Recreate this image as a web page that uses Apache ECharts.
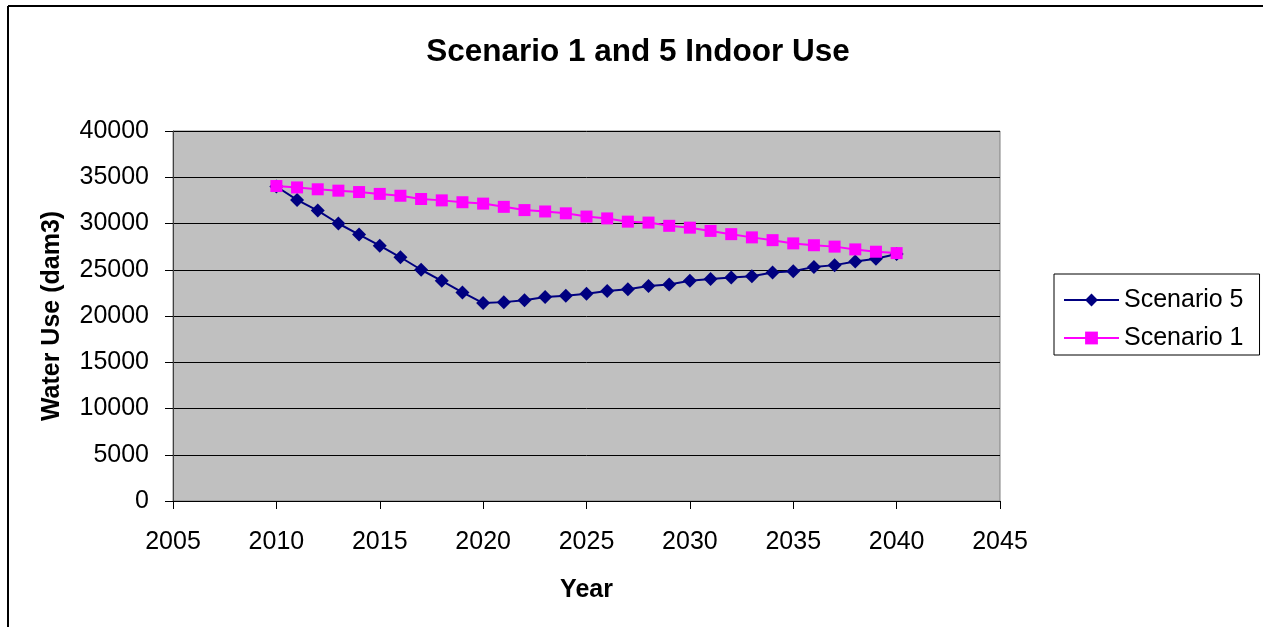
<!DOCTYPE html>
<html>
<head>
<meta charset="utf-8">
<title>Scenario 1 and 5 Indoor Use</title>
<script src="https://cdn.jsdelivr.net/npm/echarts@6/dist/echarts.min.js"></script>
<style>
  html, body { margin: 0; padding: 0; background: #ffffff; }
  #chart { width: 1263px; height: 627px; }
</style>
</head>
<body>
<div id="chart"></div>
<script>
// Years covered by both scenarios
const years = [2010, 2011, 2012, 2013, 2014, 2015, 2016, 2017, 2018, 2019, 2020,
               2021, 2022, 2023, 2024, 2025, 2026, 2027, 2028, 2029, 2030,
               2031, 2032, 2033, 2034, 2035, 2036, 2037, 2038, 2039, 2040];

// Indoor water use, dam3
const scenario5 = [34000, 32550, 31400, 30000, 28800, 27600, 26350, 25000, 23800, 22550, 21400,
                   21500, 21700, 22050, 22200, 22400, 22700, 22900, 23250, 23400, 23800,
                   24000, 24150, 24300, 24700, 24850, 25300, 25500, 25900, 26200, 26700];
const scenario1 = [34050, 33900, 33700, 33550, 33400, 33200, 33000, 32650, 32500, 32300, 32150,
                   31800, 31450, 31300, 31100, 30750, 30550, 30200, 30100, 29750, 29550,
                   29200, 28850, 28500, 28200, 27850, 27650, 27500, 27200, 26950, 26800];

const seriesNames = ['Scenario 5', 'Scenario 1'];

const pairs = vals => years.map((y, i) => [y, vals[i]]);
const plain = v => String(v);

const FONT = 'Liberation Sans, Arial, sans-serif';

const chart = echarts.init(document.getElementById('chart'), null, { renderer: 'canvas' });

chart.setOption({
  backgroundColor: '#ffffff',
  animation: false,
  textStyle: { fontFamily: FONT, color: '#000000' },
  title: {
    text: 'Scenario 1 and 5 Indoor Use',
    left: 633,
    textAlign: 'center',
    top: 31,
    textStyle: { fontFamily: FONT, fontSize: 31.5, fontWeight: 'bold', color: '#000000' }
  },
  grid: {
    left: 173, right: 263, top: 131, bottom: 126,
    show: true,
    backgroundColor: '#c0c0c0',
    borderColor: '#808080',
    borderWidth: 1
  },
  legend: {
    orient: 'vertical',
    left: 1054,
    top: 274,
    width: 205,
    padding: [13, 16, 4, 9],
    itemGap: 12,
    itemWidth: 55,
    itemHeight: 16,
    borderColor: '#000000',
    borderWidth: 1,
    backgroundColor: '#ffffff',
    textStyle: { fontFamily: FONT, fontSize: 25, color: '#000000', lineHeight: 26 },
    data: seriesNames
  },
  xAxis: {
    type: 'value',
    min: 2005,
    max: 2045,
    interval: 5,
    name: 'Year',
    nameLocation: 'middle',
    nameGap: 77,
    nameTextStyle: { fontFamily: FONT, fontSize: 25, fontWeight: 'bold', color: '#000000' },
    axisLine: { show: true, lineStyle: { color: '#000000', width: 1 } },
    axisTick: { show: true, length: 8, inside: false, lineStyle: { color: '#000000' } },
    axisLabel: { fontFamily: FONT, fontSize: 25, color: '#000000', margin: 29, formatter: plain },
    splitLine: { show: false }
  },
  yAxis: {
    type: 'value',
    min: 0,
    max: 40000,
    interval: 5000,
    name: 'Water Use (dam3)',
    nameLocation: 'middle',
    nameGap: 108,
    nameTextStyle: { fontFamily: FONT, fontSize: 25, fontWeight: 'bold', color: '#000000' },
    axisLine: { show: true, lineStyle: { color: '#404040', width: 1 } },
    axisTick: { show: true, length: 8, inside: false, lineStyle: { color: '#000000' } },
    axisLabel: { fontFamily: FONT, fontSize: 25, color: '#000000', margin: 24, formatter: plain },
    splitLine: { show: true, lineStyle: { color: '#000000', width: 1 } }
  },
  series: [
    {
      name: seriesNames[0],
      type: 'line',
      data: pairs(scenario5),
      symbol: 'diamond',
      symbolSize: 14,
      itemStyle: { color: '#000080' },
      lineStyle: { color: '#000080', width: 2 },
      z: 3
    },
    {
      name: seriesNames[1],
      type: 'line',
      data: pairs(scenario1),
      symbol: 'rect',
      symbolSize: 12,
      itemStyle: { color: '#ff00ff' },
      lineStyle: { color: '#ff00ff', width: 2 },
      z: 4
    }
  ],
  graphic: [
    { type: 'line', shape: { x1: 8, y1: 6, x2: 1263, y2: 6 }, style: { stroke: '#000000', lineWidth: 2 } },
    { type: 'line', shape: { x1: 8, y1: 6, x2: 8, y2: 627 }, style: { stroke: '#000000', lineWidth: 2 } }
  ]
});
</script>
</body>
</html>
